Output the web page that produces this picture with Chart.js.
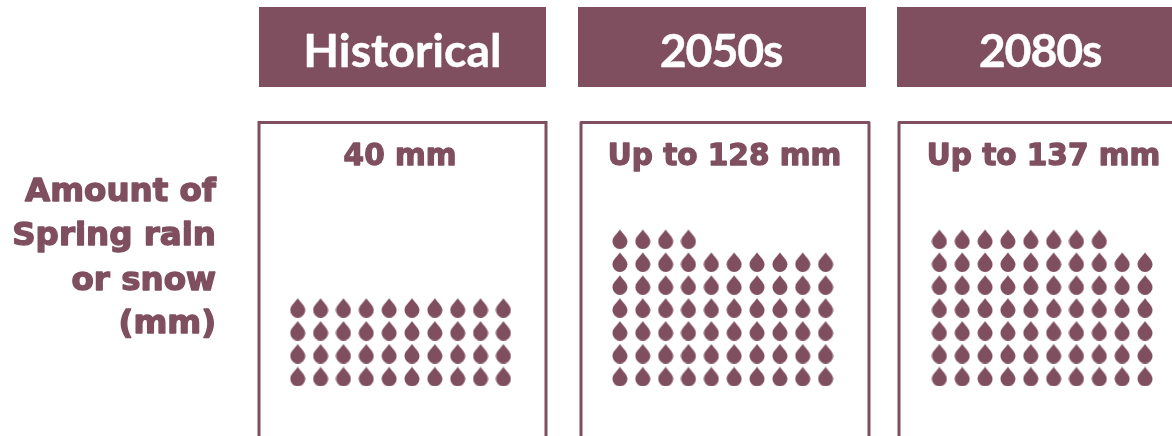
<!DOCTYPE html>
<html>
<head>
<meta charset="utf-8">
<style>html,body{margin:0;padding:0;background:#fff;overflow:hidden}canvas{display:block}</style>
<script src="https://cdn.jsdelivr.net/npm/chart.js@4"></script>
</head>
<body>
<canvas id="c" width="1172" height="436"></canvas>
<script>
const categories = ["Historical", "2050s", "2080s"];
const amountLabels = ["40 mm", "Up to 128 mm", "Up to 137 mm"];
const dropCounts = [40, 64, 68];
const axisLabelLines = ["Amount of", "Spring rain", "or snow", "(mm)"];
const dropsPerRow = 10;

const COLOR = "#7f4f5f";
const panelColumnOffset = [0, 14.1, 28.08];
const headerBoxes = [[259, 287], [578, 288], [897, 290]];
const headerCenters = [402.5, 721, 1040];
const headerSpacing = ["0px", "-1.2px", "-1.2px"];
const frameBoxes = [[259, 287], [581, 288], [899, 290]];
const amountCenters = [400, 724.5, 1043.5];

function dropImage() {
  const c = document.createElement("canvas");
  c.width = 16; c.height = 20;
  const g = c.getContext("2d");
  g.fillStyle = COLOR;
  g.beginPath();
  g.moveTo(8, 0.3);
  g.bezierCurveTo(9.5, 3.5, 15.5, 7.5, 15.5, 12.5);
  g.arc(8, 12.4, 7.5, 0, Math.PI);
  g.bezierCurveTo(0.5, 7.5, 6.5, 3.5, 8, 0.3);
  g.closePath();
  g.fill();
  return c;
}
const drop = dropImage();

const datasets = categories.map((name, p) => ({
  label: name,
  data: Array.from({length: dropCounts[p]}, (_, i) => ({
    x: panelColumnOffset[p] + i % dropsPerRow,
    y: Math.floor(i / dropsPerRow)
  })),
  pointStyle: drop,
  pointRadius: 8,
  pointBorderWidth: 0,
  showLine: false
}));

function heavyText(g, text, x, y, strokeWidth) {
  g.lineWidth = strokeWidth;
  g.lineJoin = "round";
  g.strokeStyle = g.fillStyle;
  g.strokeText(text, x, y);
  g.fillText(text, x, y);
}

const furniture = {
  id: "furniture",
  beforeDatasetsDraw(chart) {
    const g = chart.ctx;
    g.save();
    g.textBaseline = "alphabetic";
    categories.forEach((name, p) => {
      g.fillStyle = COLOR;
      g.fillRect(headerBoxes[p][0], 7, headerBoxes[p][1], 80);
      g.strokeStyle = COLOR;
      g.lineWidth = 3;
      g.strokeRect(frameBoxes[p][0], 122.5, frameBoxes[p][1], 340);
      g.fillStyle = "#fff";
      g.font = "700 46.5px Lato";
      g.textAlign = "center";
      g.letterSpacing = headerSpacing[p];
      heavyText(g, name, headerCenters[p], 67, 0.4);
      g.letterSpacing = "0px";
      g.fillStyle = COLOR;
      g.font = "700 29.5px 'DejaVu Sans'";
      heavyText(g, amountLabels[p], amountCenters[p], 165, 1.3);
    });
    g.textAlign = "right";
    g.font = "700 32.5px 'DejaVu Sans'";
    g.fillStyle = COLOR;
    const baselines = [201, 245, 290, 333];
    axisLabelLines.forEach((t, i) => heavyText(g, t, 216, baselines[i], 1.4));
    g.restore();
  }
};

new Chart(document.getElementById("c"), {
  type: "scatter",
  data: {datasets},
  plugins: [furniture],
  options: {
    responsive: false,
    animation: false,
    devicePixelRatio: 1,
    layout: {padding: 0, autoPadding: false},
    plugins: {legend: {display: false}, tooltip: {enabled: false}},
    scales: {
      x: {type: "linear", display: false, min: -13.03, max: 38.26},
      y: {type: "linear", display: false, min: -2.6, max: 16.44}
    }
  }
});
</script>
</body>
</html>
